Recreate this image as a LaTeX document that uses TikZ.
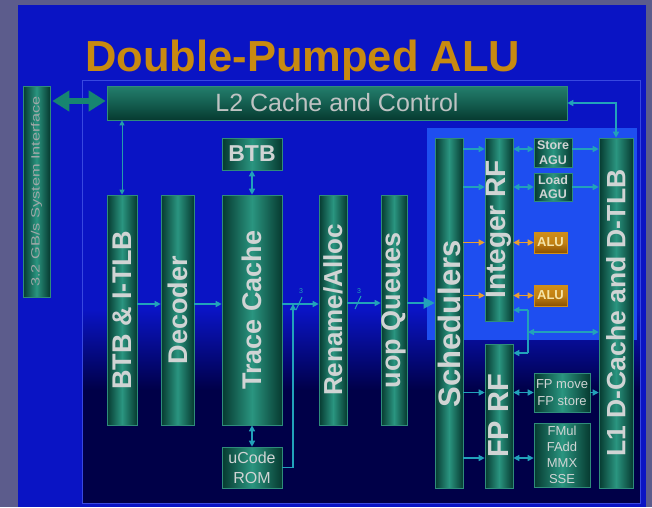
\documentclass[tikz,border=0pt]{standalone}
\usepackage{fontspec}
\setmainfont{Liberation Sans}
\usepackage{graphicx}
\usetikzlibrary{arrows.meta,calc}
\definecolor{lav}{HTML}{5C5C8C}
\definecolor{panel}{HTML}{0A14C4}
\definecolor{navy}{HTML}{000048}
\definecolor{hilite}{HTML}{1E4EF0}
\definecolor{ibord}{HTML}{3848E0}
\definecolor{tdark}{HTML}{063A30}
\definecolor{tlight}{HTML}{2A9580}
\definecolor{tbord}{HTML}{2F8C7A}
\definecolor{acol}{HTML}{22A2BA}
\definecolor{ocol}{HTML}{E8A030}
\definecolor{adark}{HTML}{8A5000}
\definecolor{alight}{HTML}{D08E18}
\definecolor{atxt}{HTML}{F4E4A8}
\definecolor{ttl}{HTML}{C88A10}
\definecolor{ltxt}{HTML}{D0D4D4}
\definecolor{gtxt}{HTML}{A0A8A8}
\definecolor{fatc}{HTML}{178570}
\tikzset{
  blk/.style={draw=tbord, line width=0.6pt, left color=tdark, right color=tdark, middle color=tlight,
    inner sep=0pt, text=ltxt, font=\bfseries\fontsize{27}{27}\selectfont},
  alubox/.style={draw=alight, line width=0.6pt, bottom color=adark, top color=alight, middle color=alight!80!adark,
    inner sep=0pt, text=atxt, font=\bfseries\fontsize{13}{13}\selectfont,
    minimum width=33pt, minimum height=21pt},
  tarr/.style={draw=acol, line width=1.4pt, -{Triangle[length=6pt,width=6pt]}},
  tdbl/.style={draw=acol, line width=1.4pt, {Triangle[length=6pt,width=6pt]}-{Triangle[length=6pt,width=6pt]}},
  tline/.style={draw=acol, line width=1.4pt},
  oarr/.style={draw=ocol, line width=1.4pt, -{Triangle[length=6pt,width=6pt]}},
  odbl/.style={draw=ocol, line width=1.4pt, {Triangle[length=6pt,width=6pt]}-{Triangle[length=6pt,width=6pt]}},
  bus/.style={text=acol, font=\fontsize{7}{7}\selectfont, inner sep=0pt},
}
\begin{document}
\begin{tikzpicture}[x=1pt,y=-1pt]
\useasboundingbox (0,0) rectangle (652,507);
% backgrounds
\fill[lav] (0,0) rectangle (652,507);
\fill[panel] (18,5) rectangle (646,507);
\fill[panel] (82,80) rectangle (640,310);
\shade[top color=panel, bottom color=navy] (82,310) rectangle (640,390);
\fill[navy] (82,390) rectangle (640,503);
\fill[hilite] (427,128) rectangle (637,340);
\draw[ibord, line width=0.8pt] (82,80) rectangle (640,503);

% title
\node[anchor=base west, inner sep=0pt, text=ttl, font=\bfseries\fontsize{43.5}{43.5}\selectfont] (title) at (85,71) {Double-Pumped ALU};

% blocks
\node[blk, minimum width=27pt, minimum height=211pt, text=gtxt, font=\fontsize{12}{12}\selectfont] (sys) at (36.5,191.5) {\rotatebox{90}{\scalebox{1.36}[1]{3.2 GB/s System Interface}}};
\node[blk, top color=tlight!85!black, bottom color=tdark, middle color=tdark!60!tlight, minimum width=460pt, minimum height=34pt, text=ltxt!92!black, font=\fontsize{25}{25}\selectfont] (l2) at (337,103) {L2 Cache and Control};
\node[blk, minimum width=60pt, minimum height=32pt, font=\bfseries\fontsize{23}{23}\selectfont] (btbtop) at (252,154) {BTB};
\node[blk, minimum width=30pt, minimum height=230pt] (itlb) at (122,310) {\rotatebox{90}{BTB \& I-TLB}};
\node[blk, minimum width=33pt, minimum height=230pt] (dec) at (177.5,310) {\rotatebox{90}{Decoder}};
\node[blk, minimum width=60pt, minimum height=230pt] (tc) at (252,310) {\rotatebox{90}{Trace Cache}};
\node[blk, minimum width=28pt, minimum height=230pt, font=\bfseries\fontsize{26}{26}\selectfont] (ren) at (333,310) {\rotatebox{90}{Rename/Alloc}};
\node[blk, minimum width=26pt, minimum height=230pt] (uop) at (394,310) {\rotatebox{90}{uop Queues}};
\node[blk, minimum width=28pt, minimum height=350pt, font=\bfseries\fontsize{31}{31}\selectfont] (sch) at (449,313) {\rotatebox{90}{\hspace*{-22pt}Schedulers}};
\node[blk, minimum width=28pt, minimum height=183pt, font=\bfseries\fontsize{28}{28}\selectfont] (irf) at (499,229.5) {\rotatebox{90}{Integer RF}};
\node[blk, minimum width=28pt, minimum height=144pt, font=\bfseries\fontsize{29}{29}\selectfont] (fprf) at (499,416) {\rotatebox{90}{FP RF}};
\node[blk, minimum width=34pt, minimum height=350pt, font=\bfseries\fontsize{26.5}{26.5}\selectfont] (l1) at (616,313) {\rotatebox{90}{L1 D-Cache and D-TLB}};
\node[blk, minimum width=38pt, minimum height=29pt, align=center, font=\bfseries\fontsize{12.5}{14.5}\selectfont] (sagu) at (553,152.5) {Store\\AGU};
\node[blk, minimum width=38pt, minimum height=28pt, align=center, font=\bfseries\fontsize{12.5}{14.5}\selectfont] (lagu) at (553,187) {Load\\AGU};
\node[alubox] (alu1) at (550.5,242.5) {ALU};
\node[alubox] (alu2) at (550.5,295.5) {ALU};
\node[blk, minimum width=56pt, minimum height=39pt, align=center, font=\fontsize{13}{17}\selectfont] (fpm) at (562,392.5) {FP move\\FP store};
\node[blk, minimum width=56pt, minimum height=64pt, align=center, font=\fontsize{13}{15.8}\selectfont] (fmul) at (562,455) {FMul\\FAdd\\MMX\\SSE};
\node[blk, minimum width=60pt, minimum height=41pt, align=center, font=\fontsize{16}{20}\selectfont] (ucode) at (252,467.5) {uCode\\ROM};

% connectors
\draw[draw=fatc, line width=6pt, {Triangle[length=17pt,width=20pt]}-{Triangle[length=17pt,width=20pt]}, shorten <=2pt, shorten >=1pt] (sys.east |- 0,101) -- (l2.west |- 0,101);
\draw[draw=acol!70!tlight, line width=1pt, {Triangle[length=5pt,width=5pt]}-{Triangle[length=5pt,width=5pt]}] (itlb.north |- l2.south) -- (itlb.north);
\draw[tdbl] (btbtop.south) -- (tc.north);
\draw[tdbl] (tc.south) -- (ucode.north);
\draw[tarr] (itlb.east |- 0,304) -- (dec.west |- 0,304);
\draw[tarr] (dec.east |- 0,304) -- (tc.west |- 0,304);
\draw[tarr] (tc.east |- 0,304) -- (ren.west |- 0,304);
\coordinate (mj) at (293,304);
\draw[tarr] (ucode.east) -| (mj);
\draw[tline, line width=1pt] (296,310) -- (302,297);
\node[bus] (b1) at (301,291) {3};
\draw[tarr] (ren.east |- 0,303) -- (uop.west |- 0,303);
\draw[tline, line width=1pt] (355,309) -- (361,296);
\node[bus] (b2) at (359,291) {3};
\draw[draw=acol, line width=2pt, -{Triangle[length=11pt,width=11pt]}] (uop.east |- 0,303) -- (sch.west |- 0,303);
\draw[tdbl] (l2.east) -| (l1.north);

\draw[tarr] (sch.east |- 0,149) -- (irf.west |- 0,149);
\draw[tarr] (sch.east |- 0,187) -- (irf.west |- 0,187);
\draw[tdbl] (irf.east |- 0,149) -- (sagu.west |- 0,149);
\draw[tarr] (sagu.east |- 0,149) -- (l1.west |- 0,149);
\draw[tdbl] (irf.east |- 0,187) -- (lagu.west |- 0,187);
\draw[tarr] (lagu.east |- 0,187) -- (l1.west |- 0,187);

\draw[oarr] (sch.east |- alu1) -- (irf.west |- alu1);
\draw[oarr] (sch.east |- alu2) -- (irf.west |- alu2);
\draw[odbl] (irf.east |- alu1) -- (alu1.west);
\draw[odbl] (irf.east |- alu2) -- (alu2.west);

\coordinate (jt) at (528,310);
\coordinate (jm) at (528,332);
\coordinate (jb) at (528,353);
\draw[tarr] (jt) -- (irf.east |- jt);
\draw[tline] (jt) -- (jb);
\draw[tarr] (jb) -- (fprf.east |- jb);
\draw[tdbl] (jm) -- (l1.west |- jm);

\draw[tarr] (sch.east |- fpm) -- (fprf.west |- fpm);
\draw[tarr] (sch.east |- 0,458) -- (fprf.west |- 0,458);
\draw[tdbl] (fprf.east |- fpm) -- (fpm.west);
\draw[tarr] (fpm.east) -- (l1.west |- fpm);
\draw[tdbl] (fprf.east |- 0,458) -- (fmul.west |- 0,458);
\end{tikzpicture}
\end{document}
